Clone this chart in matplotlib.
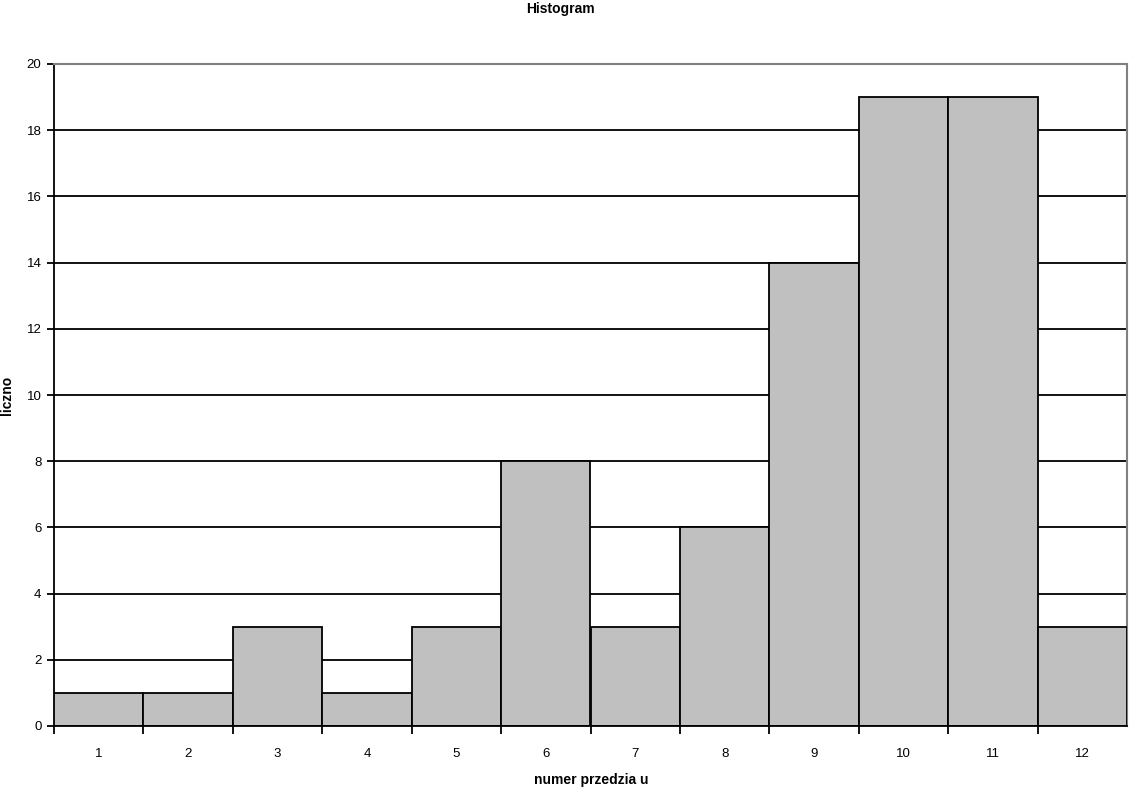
import matplotlib.pyplot as plt
import numpy as np

plt.rcParams['font.family'] = ['Liberation Sans', 'DejaVu Sans']

przedzialy = ["1", "2", "3", "4", "5", "6", "7", "8", "9", "10", "11", "12"]
licznosc = [1, 1, 3, 1, 3, 8, 3, 6, 14, 19, 19, 3]

fig = plt.figure(figsize=(11.29, 7.91), dpi=100)
ax = fig.add_axes([54/1129, 1 - 726/791, (1127 - 54)/1129, (726 - 64)/791])

x = np.arange(len(licznosc))
ax.set_axisbelow(True)
ax.yaxis.grid(True, color="black", linewidth=1.3)
ax.bar(x, licznosc, width=1.0, color="#c0c0c0", edgecolor="black", linewidth=1.3, zorder=3)

ax.set_xlim(-0.5, len(licznosc) - 0.5)
ax.set_ylim(0, 20)
ax.set_yticks(range(0, 21, 2))
ax.set_xticks(x - 0.5, minor=False)
ax.set_xticklabels([""] * len(x))
ax.set_xticks(x, minor=True)
ax.set_xticklabels(przedzialy, minor=True)
ax.tick_params(axis="x", which="minor", length=0, labelsize=9.5, pad=16)
ax.tick_params(axis="x", which="major", length=6, width=1.3)
ax.tick_params(axis="y", length=5, width=1.3, labelsize=9.5, pad=4)

for s in ["top", "right"]:
    ax.spines[s].set_color("#808080")
    ax.spines[s].set_linewidth(1.5)
for s in ["left", "bottom"]:
    ax.spines[s].set_color("black")
    ax.spines[s].set_linewidth(1.3)
ax.spines["bottom"].set_zorder(4)

fig.text(560/1129, 1 - 2/791, "Histogram", ha="center", va="top", fontsize=10, fontweight="bold")
fig.text(591/1129, 1 - 780/791, "numer przedzia u", ha="center", va="center", fontsize=10, fontweight="bold")
fig.text(7/1129, 1 - 395/791, "liczno", ha="center", va="center", rotation=90, fontsize=10, fontweight="bold")

fig.savefig("out.png", dpi=100)
